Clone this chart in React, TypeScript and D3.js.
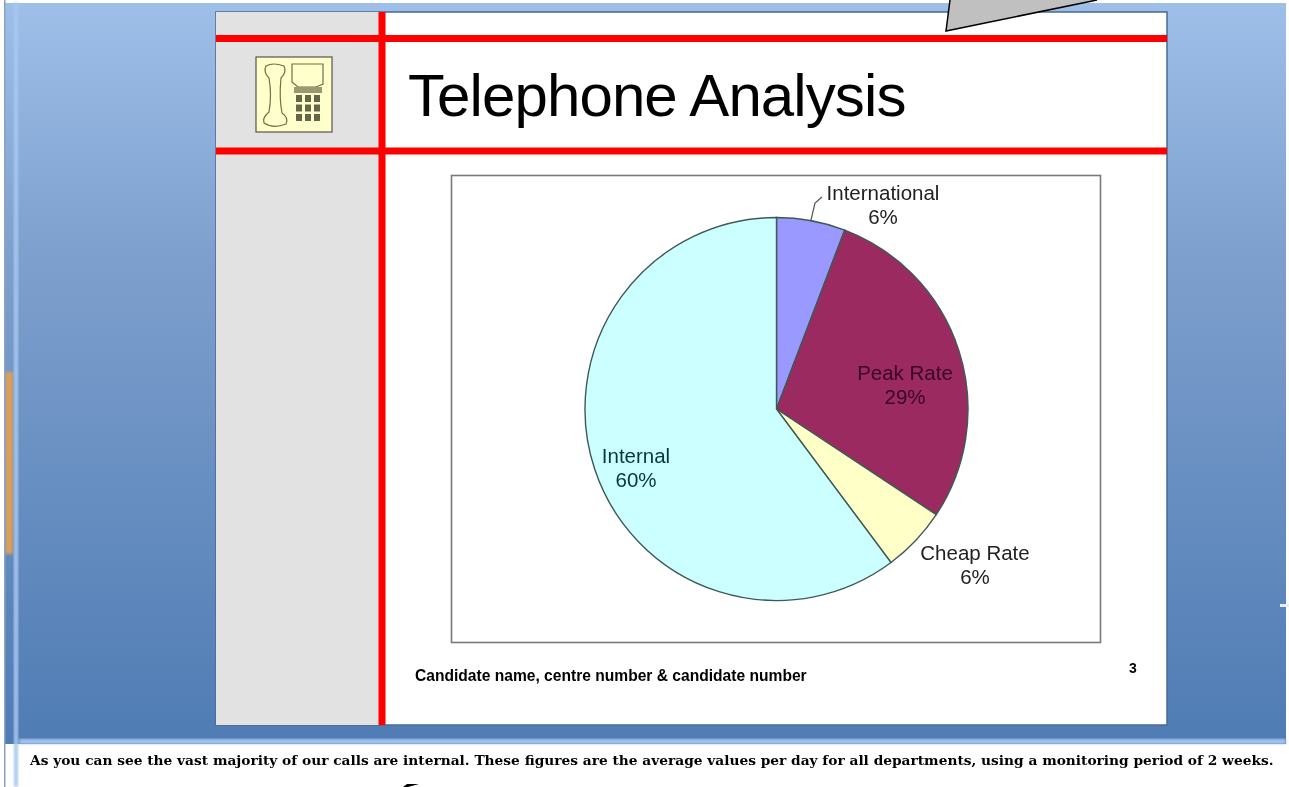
import React, { useEffect, useRef } from "react";
import * as d3 from "d3";

// values, shown labels are the rounded ones from the slide
const categories = ["International", "Peak Rate", "Cheap Rate", "Internal"];
const sliceValues = [5.8, 28.5, 5.5, 60.2];
const percentLabels = ["6%", "29%", "6%", "60%"];
const sliceColors = ["#9999ff", "#9a2b5e", "#ffffc8", "#ccffff"];
const labelColors = ["#222222", "#3a0526", "#222222", "#04383e"];
const labelSpots: [number, number][] = [
  [883, 200],
  [905, 380],
  [975, 560],
  [636, 463],
];

const titleText = "Telephone Analysis";
const footerText = "Candidate name, centre number & candidate number";
const pageNumber = "3";
const notesText =
  "As you can see the vast majority of our calls are internal.  These figures are the average values per day for all departments, using a monitoring period of 2 weeks.";

const App = () => {
  const ref = useRef<SVGSVGElement>(null);

  useEffect(() => {
    const svg = d3.select(ref.current);
    svg.selectAll("*").remove();

    const defs = svg.append("defs");
    const bg = defs
      .append("linearGradient")
      .attr("id", "bg")
      .attr("x1", 0)
      .attr("y1", 0)
      .attr("x2", 0)
      .attr("y2", 1);
    bg.append("stop").attr("offset", "0%").attr("stop-color", "#9dbfe8");
    bg.append("stop").attr("offset", "35%").attr("stop-color", "#7d9fcd");
    bg.append("stop").attr("offset", "100%").attr("stop-color", "#4f7cb4");
    defs
      .append("filter")
      .attr("id", "soft")
      .append("feGaussianBlur")
      .attr("stdDeviation", 0.75);
    defs
      .append("filter")
      .attr("id", "softer")
      .append("feGaussianBlur")
      .attr("stdDeviation", 1.5);

    // window background
    svg.append("rect").attr("width", 1289).attr("height", 787).attr("fill", "#ffffff");
    svg
      .append("rect")
      .attr("x", 4)
      .attr("y", 3)
      .attr("width", 1282)
      .attr("height", 741)
      .attr("fill", "url(#bg)");
    svg.append("rect").attr("x", 5).attr("y", 372).attr("width", 8).attr("height", 182).attr("fill", "#dd9f58").attr("filter", "url(#softer)");
    svg.append("rect").attr("x", 14).attr("y", 3).attr("width", 4).attr("height", 784).attr("fill", "#a9c8f2").attr("filter", "url(#softer)");
    svg.append("rect").attr("x", 4).attr("y", 0).attr("width", 1.5).attr("height", 787).attr("fill", "#8aa3c4");
    svg.append("rect").attr("x", 19).attr("y", 739).attr("width", 1267).attr("height", 5).attr("fill", "#a9c8f2").attr("filter", "url(#softer)");

    // slide
    const slide = svg.append("g").attr("filter", "url(#soft)");
    slide.append("rect").attr("x", 216).attr("y", 12).attr("width", 951).attr("height", 713).attr("fill", "#ffffff").attr("stroke", "#4a6a94").attr("stroke-width", 1.5);
    slide.append("rect").attr("x", 216).attr("y", 12).attr("width", 165).attr("height", 713).attr("fill", "#e2e2e2");

    slide.append("line").attr("x1", 216).attr("x2", 1167).attr("y1", 38.5).attr("y2", 38.5).attr("stroke", "#ff0000").attr("stroke-width", 7);
    slide.append("line").attr("x1", 216).attr("x2", 1167).attr("y1", 151).attr("y2", 151).attr("stroke", "#ff0000").attr("stroke-width", 7);
    slide.append("line").attr("x1", 382).attr("x2", 382).attr("y1", 12).attr("y2", 725).attr("stroke", "#ff0000").attr("stroke-width", 7);

    // phone icon
    const icon = slide.append("g");
    icon.append("rect").attr("x", 256).attr("y", 57).attr("width", 76).attr("height", 75).attr("fill", "#ffffcc").attr("stroke", "#55554a").attr("stroke-width", 1.2);
    icon
      .append("path")
      .attr("d", "M266 66 Q273 62 284 66 Q287 72 281 78 Q279 98 282 113 Q289 118 286 124 Q273 129 264 123 Q262 118 269 112 Q272 95 269 78 Q263 72 266 66 Z")
      .attr("fill", "none")
      .attr("stroke", "#6f6f48")
      .attr("stroke-width", 1.2);
    icon
      .append("path")
      .attr("d", "M292 64 H323 V84 L316 87 H298 L292 82 Z")
      .attr("fill", "none")
      .attr("stroke", "#6f6f48")
      .attr("stroke-width", 1.2);
    icon.append("rect").attr("x", 294).attr("y", 87).attr("width", 28).attr("height", 6).attr("fill", "#9a9a70");
    d3.range(3).forEach((col) => {
      d3.range(3).forEach((row) => {
        icon
          .append("rect")
          .attr("x", 296 + col * 9)
          .attr("y", 95 + row * 9.5)
          .attr("width", 6)
          .attr("height", 7)
          .attr("fill", "#66664a");
      });
    });

    slide
      .append("text")
      .attr("x", 408)
      .attr("y", 116)
      .attr("font-family", "Liberation Sans")
      .attr("font-size", 60)
      .attr("letter-spacing", -0.9)
      .attr("fill", "#000000")
      .text(titleText);

    // chart frame
    slide.append("rect").attr("x", 451.5).attr("y", 175.5).attr("width", 649).attr("height", 467).attr("fill", "#ffffff").attr("stroke", "#7f7973").attr("stroke-width", 1.6);

    // pie
    const pie = d3.pie<number>().sort(null).value((d) => d);
    const arc = d3.arc<d3.PieArcDatum<number>>().innerRadius(0).outerRadius(191.5);
    const pieGroup = slide.append("g").attr("transform", "translate(776.5,409)");
    pieGroup
      .selectAll("path")
      .data(pie(sliceValues))
      .enter()
      .append("path")
      .attr("d", arc)
      .attr("fill", (d, i) => sliceColors[i])
      .attr("stroke", "#3d5a55")
      .attr("stroke-width", 1.4);

    // leader line for International
    slide
      .append("path")
      .attr("d", d3.line()([[811, 220], [815, 203], [822, 197]]))
      .attr("fill", "none")
      .attr("stroke", "#555555")
      .attr("stroke-width", 1.2);

    categories.forEach((name, i) => {
      const [x, y] = labelSpots[i];
      const label = slide
        .append("text")
        .attr("text-anchor", "middle")
        .attr("font-family", "Liberation Sans")
        .attr("font-size", 20.5)
        .attr("fill", labelColors[i]);
      label.append("tspan").attr("x", x).attr("y", y).text(name);
      label.append("tspan").attr("x", x).attr("y", y + 24).text(percentLabels[i]);
    });

    slide
      .append("text")
      .attr("x", 415)
      .attr("y", 681)
      .attr("font-family", "Liberation Sans")
      .attr("font-weight", "bold")
      .attr("font-size", 15.6)
      .attr("fill", "#000000")
      .text(footerText);
    slide
      .append("text")
      .attr("x", 1129)
      .attr("y", 673)
      .attr("font-family", "Liberation Sans")
      .attr("font-weight", "bold")
      .attr("font-size", 14)
      .attr("fill", "#000000")
      .text(pageNumber);

    // notes pane
    svg
      .append("text")
      .attr("x", 30)
      .attr("y", 765)
      .attr("filter", "url(#soft)")
      .attr("font-family", "DejaVu Serif")
      .attr("font-weight", "bold")
      .attr("font-size", 13.75)
      .attr("fill", "#000000")
      .text(notesText);

    // callout bits cut off by the edges
    svg
      .append("path")
      .attr("d", d3.line()([[950, 0], [946, 31], [1097, 0]]))
      .attr("fill", "#c0c0c0")
      .attr("stroke", "#000000")
      .attr("stroke-width", 1.5);
    svg
      .append("path")
      .attr("d", d3.line()([[403, 787], [407, 784], [419, 784], [408, 787]]))
      .attr("fill", "#000000");
    svg.append("rect").attr("x", 1280).attr("y", 604).attr("width", 9).attr("height", 3).attr("fill", "#e8eef6");
  }, []);

  return (
    <svg
      ref={ref}
      width={1289}
      height={787}
      style={{ position: "absolute", left: 0, top: 0, display: "block" }}
    />
  );
};

export default App;
